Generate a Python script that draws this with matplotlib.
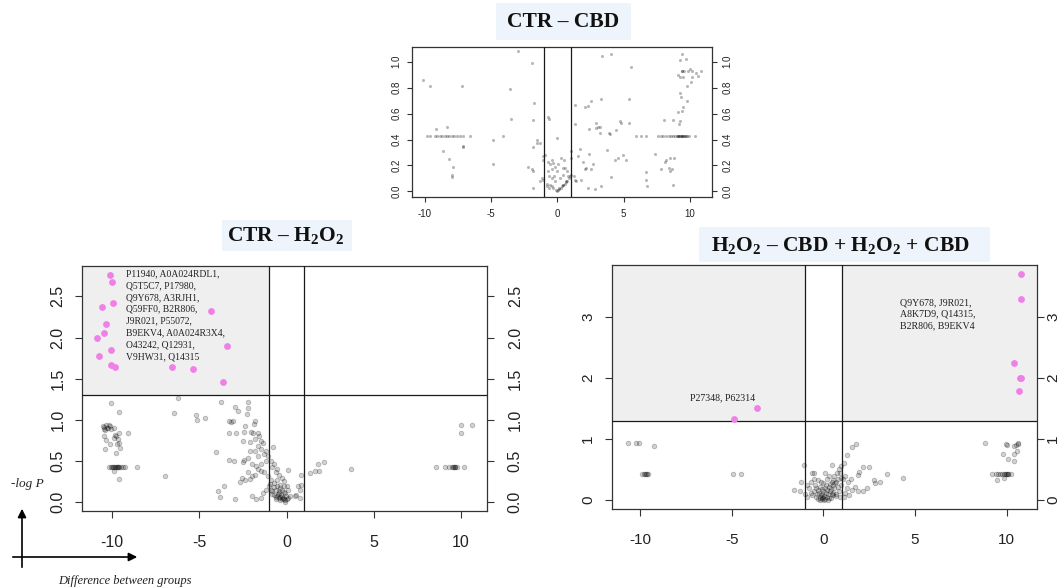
import matplotlib
matplotlib.use("Agg")
import matplotlib.pyplot as plt
from matplotlib.patches import Rectangle, FancyArrowPatch
from matplotlib.ticker import FormatStrFormatter, FixedLocator

plt.rcParams['mathtext.fontset'] = 'custom'
plt.rcParams['mathtext.rm'] = 'Liberation Serif'
plt.rcParams['mathtext.bf'] = 'Liberation Serif:bold'
plt.rcParams['mathtext.it'] = 'Liberation Serif:italic'
plt.rcParams['axes.unicode_minus'] = False

# ---------------- data: CTR - CBD (top) ----------------
top_x = [-10.13, -9.62, -7.23, -3.0, -1.94, -3.58, -3.48, -1.74, -1.81, -4.08, -4.89, -4.84,
         -2.24, -1.94, -1.81, -1.86, -1.81, -1.5, -1.3, -1.5, -9.17, -8.29,
         -9.87, -9.62, -9.25, -9.07, -8.87, -8.67, -8.5, -8.32, -8.16, -7.98, -7.8, -7.6, -7.35, -7.1, -6.6,
         -8.61, -8.16, -7.9, -7.98, -7.98, -7.1, -7.1,
         -1.05, -0.73, -0.6, -0.05,
         -0.93, -1.06, -0.73, -0.43, -0.55, -0.3, -0.18, -0.43, -0.68, -0.05,
         -1.18, -1.06, -1.31, -0.8, -0.55, -0.43, -0.3, -0.1, 0.0, 0.08,
         -0.6, -0.43, -0.25, -0.18, -0.76, -0.6,
         0.16, 0.25, 0.35, 0.45, 0.55, 0.65, 0.75, 0.85, 0.95, 1.05, 0.2, 0.4, 0.6,
         0.29, 0.54, 0.09, 0.41, 0.74, 0.79, 0.67, 0.41, 0.16,
         1.35, 2.06, 2.31, 2.56, 3.27, 1.37, 2.89, 3.07, 2.94, 3.19, 3.9, 3.95, 4.4, 4.71, 4.78,
         5.39, 5.39, 3.77, 4.33, 4.58, 4.96, 5.16, 4.08, 3.27, 2.81, 7.36, 6.68, 6.68, 6.8,
         7.86, 8.12, 8.19, 8.5, 8.8, 8.5, 8.67, 8.45, 8.75, 2.38, 1.68, 1.05, 1.55, 2.56, 2.69,
         2.06, 2.18, 1.8, 2.31, 1.3, 1.42, 1.25, 1.93, 1.0, 2.36, 3.25,
         3.34, 4.03, 5.54, 9.38, 9.23, 9.73,
         9.45, 9.38, 9.88, 10.2, 10.84, 10.5, 10.0, 9.6,
         9.13, 9.25, 9.5, 10.19, 10.65, 9.83, 10.1, 9.3, 9.33, 9.76, 9.5, 9.38, 9.08, 9.25, 9.18, 8.75, 8.04,
         5.97, 6.3, 6.73, 7.6, 7.81, 7.99, 8.24, 8.44, 8.62, 8.77, 8.92, 9.08, 9.2, 9.33, 9.45,
         9.58, 9.7, 9.83, 9.96, 10.39, 9.0, 9.1, 9.25, 9.4, 9.5, 9.65]
top_y = [0.856, 0.81, 0.81, 1.08, 0.99, 0.79, 0.56, 0.68, 0.55, 0.43, 0.40, 0.21,
         0.19, 0.17, 0.155, 0.03, 0.34, 0.37, 0.37, 0.40, 0.48, 0.50,
         0.43, 0.43, 0.43, 0.43, 0.43, 0.43, 0.43, 0.43, 0.43, 0.43, 0.43, 0.43, 0.43, 0.43, 0.43,
         0.31, 0.25, 0.19, 0.13, 0.11, 0.35, 0.345,
         0.27, 0.57, 0.56, 0.41,
         0.28, 0.24, 0.23, 0.24, 0.21, 0.22, 0.19, 0.17, 0.155, 0.16,
         0.10, 0.09, 0.08, 0.06, 0.05, 0.04, 0.026, 0.008, 0.0, 0.008,
         0.12, 0.10, 0.12, 0.08, 0.04, 0.026,
         0.015, 0.03, 0.04, 0.05, 0.06, 0.07, 0.08, 0.10, 0.12, 0.13, 0.10, 0.13, 0.18,
         0.26, 0.245, 0.21, 0.18, 0.155, 0.116, 0.077, 0.05, 0.026,
         0.665, 0.65, 0.66, 0.70, 0.71, 0.52, 0.53, 0.50, 0.49, 0.50, 0.45, 0.44, 0.47, 0.54, 0.53,
         0.71, 0.53, 0.32, 0.24, 0.26, 0.28, 0.24, 0.11, 0.04, 0.02, 0.29, 0.15, 0.09, 0.04,
         0.175, 0.23, 0.245, 0.26, 0.26, 0.155, 0.175, 0.18, 0.05, 0.29, 0.33, 0.31, 0.27, 0.175, 0.21,
         0.17, 0.18, 0.09, 0.026, 0.09, 0.077, 0.116, 0.23, 0.26, 0.48, 0.45,
         1.04, 1.06, 0.96, 1.06, 1.01, 1.02,
         0.93, 0.93, 0.93, 0.93, 0.93, 0.91, 0.94, 0.93,
         0.90, 0.88, 0.88, 0.88, 0.89, 0.81, 0.84, 0.76, 0.73, 0.70, 0.65, 0.62, 0.61, 0.54, 0.52, 0.55, 0.55,
         0.428, 0.428, 0.428, 0.428, 0.428, 0.428, 0.428, 0.428, 0.428, 0.428, 0.428, 0.428, 0.428, 0.428, 0.428,
         0.428, 0.428, 0.428, 0.428, 0.428, 0.428, 0.428, 0.428, 0.428, 0.428, 0.428]

# ---------------- data: CTR - H2O2 (left) ----------------
left_x = [-10.07, -9.6, -6.23, -6.45, -5.22, -5.13, -4.67,
          -10.55, -10.45, -10.35, -10.25, -10.15, -10.1, -10.4, -10.2, -10.3, -10.5,
          -9.9, -9.85, -9.8, -9.7, -9.6, -9.1, -10.5, -10.37, -10.15, -10.4, -9.8, -9.54, -9.63, -9.9, -9.75,
          -10.2, -10.1, -10.0, -9.95, -9.9, -9.85, -9.8, -9.75, -9.7, -9.65, -9.6, -9.5, -9.4, -9.26, -8.58,
          -9.9, -9.63, -7.0,
          -3.78, -2.94, -2.8, -2.2, -2.2, -2.24, -3.31, -3.17, -3.1, -3.31, -2.9,
          -2.39, -2.43, -2.06, -1.93, -1.65, -1.87, -1.8,
          -2.48, -2.1, -1.83, -1.56, -1.46, -1.37, -1.65, -2.1, -1.83, -1.46, -1.19, -1.28, -1.09, -1.65, -2.2,
          -4.06, -3.31, -3.04, -2.43, -2.48,
          -2.0, -1.74, -1.46, -1.19, -0.91, -0.72, -0.81, -0.54, -0.63, -0.44, -0.26, -0.17, -0.35, -0.54,
          -0.72, -0.91, -1.09, -1.28, -1.46, -1.65, -1.83, -2.0, -2.2,
          -2.67, -2.57, -2.39, -2.1, -3.96, -3.6, -3.81, -2.98,
          -2.0, -1.74, -1.46, -1.37, -1.19, -1.0,
          -0.72, -0.63, -0.54, -0.44, -0.35, -0.26, -0.17, -0.07, 0.02, 0.11, 0.2,
          -0.81, -0.63, -0.44, -0.26, -0.07, 0.11, 0.02, -0.17, -0.35, -0.54, -0.72, -0.91,
          -0.6, -0.5, -0.4, -0.3, -0.2, -0.1, -0.45, -0.25, -0.15, -0.05, -0.85, -0.95,
          -0.78, 0.11, 0.48, 0.57, 0.76, 0.81, 0.85, 0.76, 0.67,
          1.35, 1.65, 1.87, 1.8, 2.17, 3.69,
          8.56, 9.1, 9.35, 9.5, 9.55, 9.6, 9.65, 9.7, 9.76, 10.19, 10.04, 10.0, 10.63]
left_y = [1.20, 1.10, 1.27, 1.08, 1.06, 1.0, 1.02,
          0.92, 0.91, 0.93, 0.90, 0.92, 0.89, 0.88, 0.93, 0.90, 0.89,
          0.9, 0.82, 0.8, 0.76, 0.84, 0.84, 0.8, 0.75, 0.70, 0.65, 0.6, 0.66, 0.72, 0.78, 0.70,
          0.43, 0.43, 0.43, 0.43, 0.43, 0.43, 0.43, 0.43, 0.43, 0.43, 0.43, 0.43, 0.43, 0.43, 0.43,
          0.375, 0.28, 0.31,
          1.21, 1.16, 1.11, 1.22, 1.14, 1.07, 0.99, 0.97, 0.98, 0.84, 0.84,
          0.92, 0.85, 0.85, 0.84, 0.84, 0.95, 0.99,
          0.74, 0.73, 0.76, 0.8, 0.74, 0.72, 0.68, 0.62, 0.62, 0.64, 0.62, 0.58, 0.56, 0.56, 0.54,
          0.61, 0.51, 0.5, 0.51, 0.48,
          0.46, 0.44, 0.46, 0.5, 0.5, 0.46, 0.42, 0.4, 0.36, 0.33, 0.29, 0.25, 0.21, 0.27,
          0.23, 0.27, 0.31, 0.36, 0.38, 0.40, 0.33, 0.31, 0.36,
          0.245, 0.29, 0.27, 0.28, 0.13, 0.19, 0.06, 0.04,
          0.07, 0.03, 0.05, 0.11, 0.15, 0.19,
          0.08, 0.06, 0.07, 0.05, 0.06, 0.04, 0.03, 0.02, 0.03, 0.05, 0.07,
          0.13, 0.15, 0.13, 0.15, 0.11, 0.15, 0.19, 0.19, 0.17, 0.19, 0.18, 0.15,
          0.03, 0.1, 0.02, 0.09, 0.05, 0.0, 0.11, 0.06, 0.12, 0.07, 0.1, 0.22,
          0.67, 0.39, 0.07, 0.09, 0.15, 0.21, 0.33, 0.05, 0.19,
          0.355, 0.375, 0.38, 0.46, 0.49, 0.40,
          0.43, 0.43, 0.43, 0.43, 0.43, 0.43, 0.43, 0.43, 0.43, 0.43, 0.93, 0.84, 0.93]
left_hx = [-10.11, -10.02, -9.94, -10.6, -4.33, -10.34, -10.5, -10.88, -10.1, -3.43, -10.76,
           -10.1, -9.85, -6.58, -5.38, -3.62]
left_hy = [2.76, 2.68, 2.42, 2.37, 2.32, 2.16, 2.06, 1.99, 1.85, 1.90, 1.78,
           1.67, 1.64, 1.64, 1.62, 1.46]
left_label = ["P11940, A0A024RDL1,", "Q5T5C7, P17980,", "Q9Y678, A3RJH1,",
              "Q59FF0, B2R806,", "J9R021, P55072,", "B9EKV4, A0A024R3X4,",
              "O43242, Q12931,", "V9HW31, Q14315"]

# ---------------- data: H2O2 - CBD + H2O2 + CBD (right) ----------------
right_x = [-10.68, -10.22, -10.04, -9.23, -9.9, -9.8, -9.75, -9.7, -9.65, -9.58, -4.91, -4.51,
           1.79, 1.55, 1.28, 1.15, 0.96, -1.05, -0.6, -0.5, 0.45, 0.1, 2.16, 2.47, 1.97, 1.88,
           2.8, 3.07, 2.39, 2.16, 1.7, 1.88, 1.55, 1.42, -1.6, -1.28, -1.2, -0.87, 3.48, 4.35, 2.75,
           -0.4, -0.3, -0.2, -0.1, 0.0, 0.1, 0.2, 0.3, -0.35, -0.25, -0.15, -0.05, 0.05, 0.15, 0.25,
           0.35, 0.45, -0.5, -0.4, -0.3, -0.2, -0.1, 0.0, 0.1, 0.2, 0.3, 0.4, 0.5, 0.6, 0.7, 0.8,
           0.6, 0.75, 0.85, 0.9, 0.65, 0.55, 0.45, 0.35, -0.6, -0.7, -0.8, -0.65, -0.5, -0.3, -0.15,
           0.0, 0.2, 0.3, -0.05, 0.05, -0.2, 0.25, 0.4, 0.55, 0.7, 0.85, 0.95, 1.05, 1.2, 1.35, 1.5,
           1.3, 1.2, 1.1, 0.9, -0.9, -1.0, -0.45, 0.15, 0.5, 0.8, 0.7, 0.95,
           8.84, 9.96, 10.0, 10.42, 10.51, 10.6, 10.65, 9.78, 10.09, 10.42, 10.56, 10.42,
           9.2, 9.4, 9.55, 9.65, 9.75, 9.85, 9.9, 9.95, 10.0, 10.05, 10.1, 10.24, 9.5, 9.84]
right_y = [0.93, 0.93, 0.93, 0.88, 0.43, 0.43, 0.43, 0.43, 0.43, 0.43, 0.43, 0.43,
           0.92, 0.87, 0.74, 0.6, 0.55, 0.57, 0.45, 0.44, 0.57, 0.45, 0.54, 0.54, 0.46, 0.41,
           0.28, 0.30, 0.19, 0.14, 0.22, 0.14, 0.16, 0.08, 0.16, 0.14, 0.3, 0.25, 0.42, 0.355, 0.33,
           0.05, 0.02, 0.04, 0.01, 0.03, 0.02, 0.05, 0.03, 0.1, 0.12, 0.08, 0.1, 0.07, 0.12, 0.09,
           0.14, 0.1, 0.15, 0.2, 0.17, 0.22, 0.18, 0.15, 0.2, 0.16, 0.22, 0.18, 0.25, 0.2, 0.3, 0.35,
           0.4, 0.45, 0.5, 0.45, 0.28, 0.33, 0.3, 0.26, 0.08, 0.12, 0.2, 0.3, 0.35, 0.32, 0.3,
           0.28, 0.35, 0.4, 0.05, 0.0, 0.0, 0.0, 0.04, 0.08, 0.1, 0.15, 0.25, 0.35, 0.4, 0.3, 0.35,
           0.2, 0.12, 0.05, 0.05, 0.05, 0.1, 0.25, 0.25, 0.12, 0.22, 0.06, 0.36,
           0.93, 0.92, 0.9, 0.89, 0.9, 0.93, 0.91, 0.75, 0.67, 0.75, 0.80, 0.64,
           0.43, 0.43, 0.43, 0.43, 0.43, 0.43, 0.43, 0.43, 0.43, 0.43, 0.43, 0.43, 0.33, 0.355]
right_hx = [10.8, 10.77, 10.38, 10.77, 10.73, 10.67, -3.61, -4.86]
right_hy = [3.70, 3.29, 2.25, 2.0, 2.0, 1.78, 1.51, 1.33]
right_label_pos = ["Q9Y678, J9R021,", "A8K7D9, Q14315,", "B2R806, B9EKV4"]
right_label_neg = "P27348, P62314"

threshold_x = [-1, 1]
threshold_y = 1.3

# ---------------- figure ----------------
W, H = 1064, 588
fig = plt.figure(figsize=(W / 100, H / 100), dpi=100)
fig.patch.set_facecolor('white')

def fr(x0, y0, x1, y1):
    return [x0 / W, 1 - y1 / H, (x1 - x0) / W, (y1 - y0) / H]

SANS = 'Liberation Sans'
SERIF = 'Liberation Serif'
GRAY_FACE = (0, 0, 0, 0.18)
GRAY_EDGE = (0, 0, 0, 0.24)
PINK = '#ef80e8'
SPINE = '#333333'


def style_axes(ax, xlim, ylim, yticks, yfmt, fs, tlen, xpad, ypad, ypad_r):
    ax.set_xlim(*xlim)
    ax.set_ylim(*ylim)
    ax.xaxis.set_major_locator(FixedLocator([-10, -5, 0, 5, 10]))
    ax.yaxis.set_major_locator(FixedLocator(yticks))
    ax.yaxis.set_major_formatter(FormatStrFormatter(yfmt))
    for s in ax.spines.values():
        s.set_color(SPINE)
        s.set_linewidth(0.9)
    ax.tick_params(axis='x', direction='out', length=tlen, width=0.8, color=SPINE,
                   labelsize=fs, pad=xpad, labelcolor='#222222')
    ax.tick_params(axis='y', which='both', direction='out', length=tlen, width=0.8, color=SPINE,
                   labelsize=fs, labelcolor='#222222', left=True, right=True,
                   labelleft=True, labelright=True, labelrotation=90)
    for lab in ax.get_xticklabels():
        lab.set_fontfamily(SANS)
    for t in ax.yaxis.get_major_ticks():
        t.label1.set_fontfamily(SANS)
        t.label1.set_va('center')
        t.label2.set_fontfamily(SANS)
        t.label2.set_va('center')
    ax.yaxis.set_tick_params(which='major', pad=ypad)
    for t in ax.yaxis.get_major_ticks():
        t.tick2line.set_markersize(tlen)
    # right-side pad handled via offset of label2
    from matplotlib.transforms import ScaledTranslation
    dx = (ypad_r - ypad) / 72.0
    for t in ax.yaxis.get_major_ticks():
        t.label2.set_transform(t.label2.get_transform() + ScaledTranslation(dx, 0, fig.dpi_scale_trans))


def vlines(ax):
    for xv in threshold_x:
        ax.axvline(xv, color='#1a1a1a', lw=0.9, zorder=3)


# ---- top panel ----
ax1 = fig.add_axes(fr(412, 47, 712, 197))
ax1.scatter(top_x, top_y, s=5, color=(0, 0, 0, 0.28), linewidths=0, zorder=2)
vlines(ax1)
style_axes(ax1, (-10.97, 11.68), (-0.043, 1.113), [0, 0.2, 0.4, 0.6, 0.8, 1.0], '%.1f',
           7, 3.5, 5, 4, 4)

# ---- left panel ----
ax2 = fig.add_axes(fr(82, 266, 487, 511))
xl2, yl2 = (-11.74, 11.51), (-0.11, 2.87)
ax2.add_patch(Rectangle((xl2[0], threshold_y), threshold_x[0] - xl2[0], yl2[1] - threshold_y,
                        facecolor='#efefef', edgecolor='none', zorder=0))
ax2.scatter(left_x, left_y, s=11, facecolor=GRAY_FACE, edgecolor=GRAY_EDGE, linewidths=0.6, zorder=2)
ax2.scatter(left_hx, left_hy, s=24, color=PINK, linewidths=0, zorder=4)
vlines(ax2)
ax2.axhline(threshold_y, color='#1a1a1a', lw=0.9, zorder=3)
ax2.text(-9.2, 2.83, "\n".join(left_label), family=SERIF, fontsize=6.9, va='top',
         ha='left', linespacing=1.4, color='#222222', zorder=5)
style_axes(ax2, xl2, yl2, [0, 0.5, 1.0, 1.5, 2.0, 2.5], '%.1f', 11.5, 5, 12, 7, 10)

# ---- right panel ----
ax3 = fig.add_axes(fr(612, 265, 1037, 509))
xl3, yl3 = (-11.54, 11.66), (-0.148, 3.85)
ax3.add_patch(Rectangle((xl3[0], threshold_y), threshold_x[0] - xl3[0], yl3[1] - threshold_y,
                        facecolor='#efefef', edgecolor='none', zorder=0))
ax3.add_patch(Rectangle((threshold_x[1], threshold_y), xl3[1] - threshold_x[1], yl3[1] - threshold_y,
                        facecolor='#efefef', edgecolor='none', zorder=0))
ax3.scatter(right_x, right_y, s=11, facecolor=GRAY_FACE, edgecolor=GRAY_EDGE, linewidths=0.6, zorder=2)
ax3.scatter(right_hx, right_hy, s=24, color=PINK, linewidths=0, zorder=4)
vlines(ax3)
ax3.axhline(threshold_y, color='#1a1a1a', lw=0.9, zorder=3)
ax3.text(4.17, 3.31, "\n".join(right_label_pos), family=SERIF, fontsize=7.1, va='top',
         ha='left', linespacing=1.35, color='#222222', zorder=5)
ax3.text(-5.48, 1.67, right_label_neg, family=SERIF, fontsize=7.1, va='center',
         ha='center', color='#222222', zorder=5)
style_axes(ax3, xl3, yl3, [0, 1, 2, 3], '%d', 11, 5, 12, 7, 1.5)

# ---- titles with light-blue backgrounds ----
def title_box(x0, y0, x1, y1):
    fig.patches.append(Rectangle((x0 / W, 1 - y1 / H), (x1 - x0) / W, (y1 - y0) / H,
                                 transform=fig.transFigure, facecolor='#eef4fb',
                                 edgecolor='none', zorder=0))

title_box(496, 3, 631, 40)
title_box(222, 220, 352, 251)
title_box(699, 227, 990, 262)
tkw = dict(family=SERIF, fontweight='bold', fontsize=15.5, ha='center', va='center', color='#111111')
fig.text(563 / W, 1 - 22 / H, 'CTR – CBD', **tkw)
fig.text(286 / W, 1 - 236 / H, r'CTR – H$_\mathbf{2}$O$_\mathbf{2}$', **tkw)
fig.text(840 / W, 1 - 246 / H,
         r'H$_\mathbf{2}$O$_\mathbf{2}$ – CBD + H$_\mathbf{2}$O$_\mathbf{2}$ + CBD', **tkw)

# ---- axis-meaning indicator (bottom left) ----
fig.add_artist(FancyArrowPatch((22 / W, 1 - 570 / H), (22 / W, 1 - 506 / H),
                               transform=fig.transFigure, arrowstyle='-|>,head_length=5,head_width=2.5',
                               color='black', lw=1.2))
fig.add_artist(FancyArrowPatch((10 / W, 1 - 557 / H), (140 / W, 1 - 557 / H),
                               transform=fig.transFigure, arrowstyle='-|>,head_length=5,head_width=2.5',
                               color='black', lw=1.2))
fig.text(27 / W, 1 - 484 / H, '-log P', family=SERIF, style='italic', fontsize=9.5,
         ha='center', va='center', color='#222222')
fig.text(125 / W, 1 - 581 / H, 'Difference between groups', family=SERIF, style='italic',
         fontsize=9, ha='center', va='center', color='#222222')

fig.savefig('out.png', dpi=100)
